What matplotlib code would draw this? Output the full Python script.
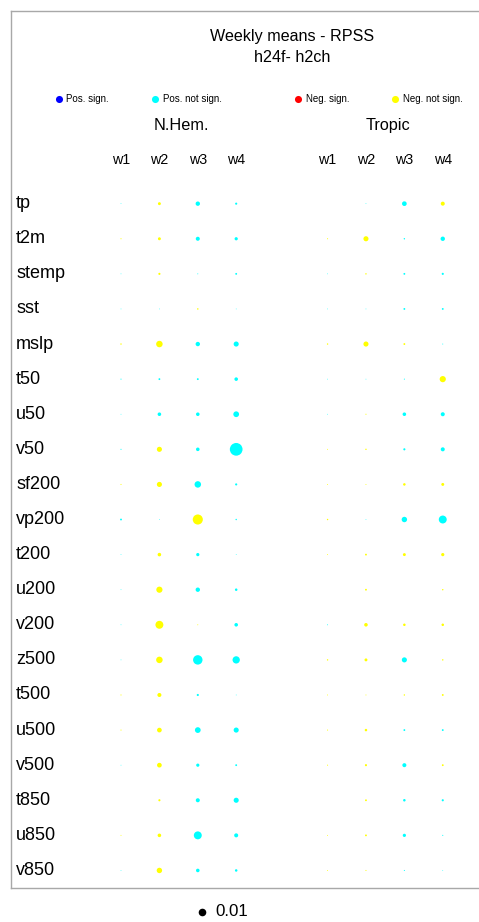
import numpy as np
import matplotlib
matplotlib.use("Agg")
import matplotlib.pyplot as plt

plt.rcParams['font.family'] = ['Liberation Sans', 'DejaVu Sans']

# variables (rows) and lead weeks (columns)
variables = ["tp", "t2m", "stemp", "sst", "mslp", "t50", "u50", "v50", "sf200", "vp200",
             "t200", "u200", "v200", "z500", "t500", "u500", "v500", "t850", "u850", "v850"]
weeks = ["w1", "w2", "w3", "w4"]
regions = ["N.Hem.", "Tropic"]

# RPSS difference h24f - h2ch, units of 1e-3 (sign: + cyan, - yellow)
nhem = [
    [0.1, -1.5, 3.3, 0.8],
    [-0.2, -1.5, 2.8, 1.8],
    [0.1, -0.8, 0.15, 0.6],
    [0.1, 0.1, -0.4, 0.1],
    [-0.35, -7.3, 3.3, 4.5],
    [0.2, 0.6, 0.6, 2.2],
    [0.1, 2.2, 2.2, 5.7],
    [0.2, -4.5, 2.2, 27.9],
    [-0.2, -4.5, 7.3, 0.8],
    [0.6, 0.1, -17.6, 0.35],
    [0.1, -2.2, 1.8, 0.1],
    [0.1, -6.6, 3.3, 1.1],
    [0.1, -10.9, -0.15, 2.2],
    [0.1, -7.3, 15.4, 9.2],
    [-0.2, -2.8, 0.8, 0.1],
    [-0.2, -3.8, 5.7, 4.5],
    [0.1, -3.8, 1.8, 0.6],
    [0.0, -0.8, 2.8, 4.5],
    [-0.15, -2.2, 10.9, 2.8],
    [0.1, -5.1, 2.2, 1.1],
]
tropic = [
    [0.0, 0.1, 3.8, -2.8],
    [-0.2, -4.5, 0.35, 3.3],
    [0.1, -0.35, 0.6, 0.8],
    [0.1, 0.1, 0.6, 0.6],
    [-0.35, -4.5, -0.6, 0.15],
    [0.1, 0.1, 0.2, -6.6],
    [0.1, -0.2, 2.2, 2.8],
    [-0.15, -0.35, 0.8, 2.8],
    [-0.15, -0.15, -1.1, -1.5],
    [-0.35, 0.1, 5.1, 10.9],
    [-0.15, -0.6, -1.5, -1.8],
    [0.0, -0.6, 0.0, -0.35],
    [0.15, -2.2, -1.1, -1.1],
    [-0.35, -1.5, 4.5, -0.35],
    [-0.15, -0.15, -0.35, -0.6],
    [-0.2, -1.1, 0.6, 0.6],
    [-0.2, -0.8, 2.8, -0.6],
    [0.0, -0.6, 1.1, 0.8],
    [-0.15, -0.6, 1.8, 0.2],
    [-0.15, -0.2, 0.2, 0.1],
]
# significance flags (none significant here)
nhem_sig = np.zeros((20, 4), dtype=bool)
tropic_sig = np.zeros((20, 4), dtype=bool)

legend_labels = ["Pos. sign.", "Pos. not sign.", "Neg. sign.", "Neg. not sign."]
legend_colors = ["#0000ff", "#00ffff", "#ff0000", "#ffff00"]
ref_value = 0.01

size_scale = 3000.0  # marker area (pt^2) per unit RPSS
region_offset = [0.0, 5.38]

W, H = 479, 922
fig = plt.figure(figsize=(W / 100, H / 100), dpi=100)
ax = fig.add_axes([11 / W, 34 / H, 469 / W, 877 / H])
ax.set_xlim(-2.865, 9.35)
ax.set_ylim(19.5, -5.49)
ax.set_xticks([])
ax.set_yticks([])
for sp in ax.spines.values():
    sp.set_color("#a8a8a8")
    sp.set_linewidth(1.0)
ax.spines["right"].set_visible(False)


def colour(v, sig):
    if v >= 0:
        return legend_colors[0] if sig else legend_colors[1]
    return legend_colors[2] if sig else legend_colors[3]


for r, (data, sig) in enumerate([(nhem, nhem_sig), (tropic, tropic_sig)]):
    vals = np.array(data) * 1e-3
    rows, cols = np.meshgrid(np.arange(len(variables)), np.arange(len(weeks)), indexing="ij")
    cols_x = cols + region_offset[r]
    cs = [colour(v, s) for v, s in zip(vals.ravel(), sig.ravel())]
    ax.scatter(cols_x.ravel(), rows.ravel(), s=np.abs(vals.ravel()) * size_scale,
               c=cs, linewidths=0)
    xc = region_offset[r] + 1.58
    ax.text(xc, -2.24, regions[r], ha="center", va="center", fontsize=11.7)
    for j, w in enumerate(weeks):
        ax.text(j + region_offset[r], -1.245, w, ha="center", va="center", fontsize=10.3)

for i, name in enumerate(variables):
    ax.text(-2.73, i, name, ha="left", va="center", fontsize=13)

# legend row
leg_x = [-1.62, 0.885, 4.61, 7.14]
for lx, lab, col in zip(leg_x, legend_labels, legend_colors):
    ax.scatter([lx], [-2.98], s=26, c=col, linewidths=0, clip_on=False)
    ax.text(lx + 0.2, -2.98, lab, ha="left", va="center", fontsize=7)

fig.text(292 / W, 1 - 37 / H, "Weekly means - RPSS", ha="center", va="center", fontsize=11.6)
fig.text(292 / W, 1 - 57 / H, "h24f- h2ch", ha="center", va="center", fontsize=11.6)

# size reference below the frame
ax2 = fig.add_axes([0, 0, 1, 1], facecolor="none")
ax2.set_xlim(0, W)
ax2.set_ylim(H, 0)
ax2.axis("off")
ax2.scatter([201.7], [911.7], s=ref_value * size_scale, c="black", linewidths=0)
ax2.text(215, 911.7, "%.2f" % ref_value, ha="left", va="center", fontsize=12.2)

fig.savefig("out.png", dpi=100)
